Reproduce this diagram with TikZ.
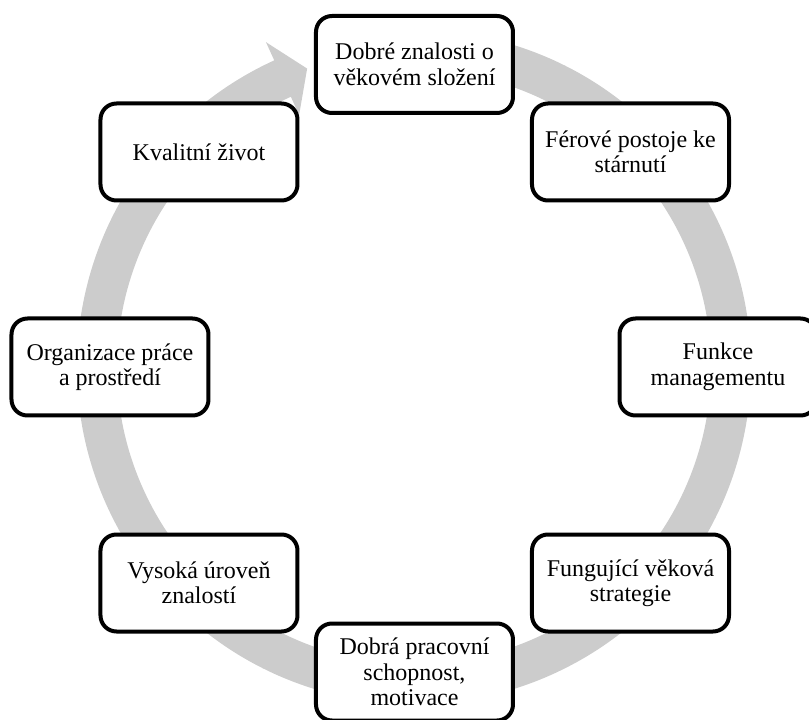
\documentclass[tikz,border=0pt]{standalone}
\usepackage{fontspec}
\setmainfont{Liberation Serif}
\begin{document}
\begin{tikzpicture}[x=1pt,y=1pt,
  ringcol/.style={fill={rgb,255:red,204;green,204;blue,204}},
  stagebox/.style={draw=black, line width=4pt, rounded corners=16pt, fill=white,
    minimum width=197pt, minimum height=97pt, inner sep=0pt, align=center,
    font=\fontsize{24}{25.5}\selectfont}]
\useasboundingbox (-414,-353) rectangle (395,367);
% circular arrow
\fill[ringcol] (80:337) arc[start angle=80, end angle=-245.5, radius=337]
  -- (-245.5:357) -- (-250.3:317) -- (-245.5:277) -- (-245.5:297)
  arc[start angle=-245.5, end angle=80, radius=297] -- cycle;
% boxes
\node[stagebox] (b1) at (0.5,302.5) {Dobré znalosti o\\věkovém složení};
\node[stagebox] (b2) at (216.5,215) {Férové postoje ke\\stárnutí};
\node[stagebox] (b3) at (304,0) {Funkce\\managementu};
\node[stagebox] (b4) at (216.5,-216) {Fungující věková\\strategie};
\node[stagebox] (b5) at (0.5,-305) {Dobrá pracovní\\schopnost,\\motivace};
\node[stagebox] (b6) at (-215,-216) {Vysoká úroveň\\znalostí};
\node[stagebox] (b7) at (-304,0) {Organizace práce\\a prostředí};
\node[stagebox] (b8) at (-215,215) {Kvalitní život};
\end{tikzpicture}
\end{document}
